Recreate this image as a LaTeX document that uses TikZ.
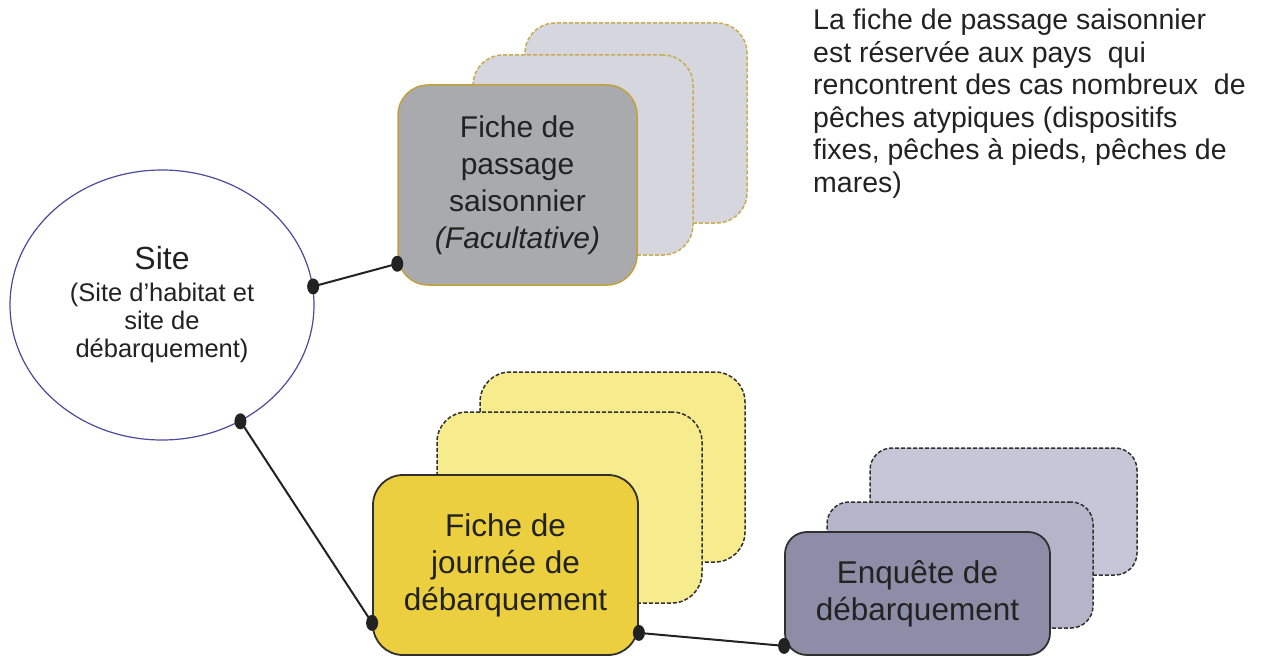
\documentclass[tikz,border=0pt]{standalone}
\usepackage{fontspec}
\setmainfont{Liberation Sans}
\usetikzlibrary{shapes.geometric,calc}
\definecolor{txt}{HTML}{222222}
\definecolor{gfront}{HTML}{A9AAAE}
\definecolor{gborder}{HTML}{C4A03C}
\definecolor{gback}{HTML}{D6D6DF}
\definecolor{gbackborder}{HTML}{C9AB50}
\definecolor{yfront}{HTML}{EBCF3F}
\definecolor{yback}{HTML}{F6EB8D}
\definecolor{pfront}{HTML}{8D8DA7}
\definecolor{pmid}{HTML}{B5B5C9}
\definecolor{pback}{HTML}{C6C6D8}
\definecolor{darkline}{HTML}{303030}
\definecolor{circline}{HTML}{4B4B9B}
\begin{document}
\begin{tikzpicture}[x=1pt,y=-1pt,
  card/.style={rectangle, inner sep=0pt, text=txt, align=center},
  gbackcard/.style={card, rounded corners=30pt, fill=gback, draw=gbackborder, line width=1.5pt, dash pattern=on 4pt off 2pt},
  gfrontcard/.style={card, rounded corners=30pt, fill=gfront, draw=gborder, line width=1.5pt, font=\fontsize{30}{37}\selectfont},
  ybackcard/.style={card, rounded corners=30pt, fill=yback, draw=darkline, line width=1.5pt, dash pattern=on 4pt off 2pt},
  yfrontcard/.style={card, rounded corners=30pt, fill=yfront, draw=darkline, line width=1.8pt, font=\fontsize{31.5}{37}\selectfont},
  pbackcard/.style={card, rounded corners=22pt, draw=darkline, line width=1.5pt, dash pattern=on 4pt off 2pt},
  pfrontcard/.style={card, rounded corners=22pt, fill=pfront, draw=darkline, line width=1.8pt, font=\fontsize{31.5}{37}\selectfont},
  conn/.style={draw=txt, line width=2pt},
  dotmark/.style={fill=txt}
]
\useasboundingbox (0,0) rectangle (1262,658);

% site ellipse
\node[ellipse, draw=circline, line width=1.2pt, fill=white, minimum width=304pt, minimum height=270pt, inner sep=0pt, align=center, text=txt, font=\fontsize{25.5}{28}\selectfont] (site) at (162,305)
  {{\fontsize{32}{32}\selectfont Site}\\[4pt] (Site d’habitat et\\ site de\\ débarquement)};

% gray stack
\node[gbackcard, minimum width=222pt, minimum height=200pt] (gb) at (636,123) {};
\node[gbackcard, minimum width=220pt, minimum height=200pt] (gm) at (583,155) {};
\node[gfrontcard, minimum width=239pt, minimum height=200pt] (gf) at (517.5,185)
  {Fiche de\\ passage\\ saisonnier\\ \textit{(Facultative)}};

% yellow stack
\node[ybackcard, minimum width=265pt, minimum height=190pt] (yb) at (612.5,467) {};
\node[ybackcard, minimum width=265pt, minimum height=191pt] (ym) at (569.5,507.5) {};
\node[yfrontcard, minimum width=265pt, minimum height=180pt] (yf) at (505.5,565)
  {Fiche de\\ journée de\\ débarquement};

% purple stack
\node[pbackcard, fill=pback, minimum width=267pt, minimum height=127pt] (pb) at (1003.5,511.5) {};
\node[pbackcard, fill=pmid, minimum width=266pt, minimum height=126pt] (pm) at (960,565) {};
\node[pfrontcard, minimum width=265pt, minimum height=123pt] (pf) at (917.5,593.5)
  {Enquête de\\ débarquement};

% note
\node[anchor=north west, inner sep=0pt, align=left, text=txt, font=\fontsize{28.5}{32.5}\selectfont] (note) at (813,9)
  {La fiche de passage saisonnier\\ est réservée aux pays\ \ qui\\ rencontrent des cas nombreux\ \ de\\ pêches atypiques (dispositifs\\ fixes, pêches à pieds, pêches de\\ mares)};

% connector end points
\coordinate (s1) at (site.7);
\coordinate (s2) at (site.-56);
\coordinate (g1) at ($(gf.south west)+(0,-22)$);
\coordinate (y1) at ($(yf.south west)+(0,-33)$);
\coordinate (y2) at ($(yf.south east)+(0,-23)$);
\coordinate (p1) at ($(pf.south west)+(0,-10)$);

\draw[conn] (s1) -- (g1);
\draw[conn] (s2) -- (y1);
\draw[conn] (y2) -- (p1);

\foreach \c in {s1,s2,g1,y1,y2,p1}
  \fill[dotmark] (\c) ellipse [x radius=6pt, y radius=8pt];
\end{tikzpicture}
\end{document}
